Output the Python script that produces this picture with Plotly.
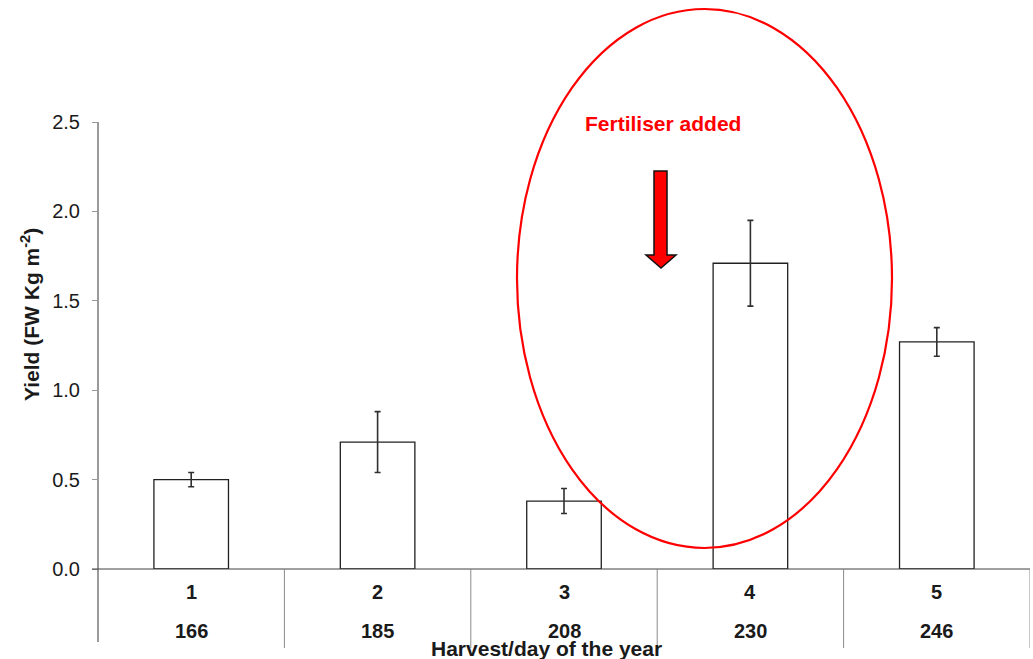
import plotly.graph_objects as go

# Harvest data
harvests = ["1", "2", "3", "4", "5"]
days = ["166", "185", "208", "230", "246"]
yield_fw = [0.50, 0.71, 0.38, 1.71, 1.27]
yield_err = [0.04, 0.17, 0.07, 0.24, 0.08]
y_ticks = [0.0, 0.5, 1.0, 1.5, 2.0, 2.5]

W, H = 1033, 659
L, R, T, B = 98, 3, 122, 90
plot_w = W - L - R
plot_h = H - T - B


def px(x):
    return (x - L) / plot_w


def py(y):
    return (H - B - y) / plot_h


FONT = "Liberation Sans, Arial, sans-serif"
TXT = "#1a1a1a"
pos = list(range(1, len(harvests) + 1))

fig = go.Figure()
fig.add_trace(go.Bar(
    x=pos, y=yield_fw, width=0.4,
    marker=dict(color="white", line=dict(color="#202020", width=1.3)),
    error_y=dict(type="data", array=yield_err, visible=True,
                 color="#303030", thickness=1.6, width=3),
    showlegend=False,
))

shapes = []
# extended y axis line
shapes.append(dict(type="line", xref="paper", yref="paper", x0=0, x1=0,
                   y0=py(642), y1=1, line=dict(color="#9a9a9a", width=2)))
# baseline at zero
shapes.append(dict(type="line", xref="paper", yref="paper", x0=px(92), x1=1,
                   y0=0, y1=0, line=dict(color="#404040", width=1)))
# category separators below the axis
for i in range(len(harvests)):
    shapes.append(dict(type="line", xref="x", yref="paper", x0=i + 1.5, x1=i + 1.5,
                       y0=py(648), y1=0, line=dict(color="#8a8a8a", width=1)))
# highlighting ellipse
shapes.append(dict(type="circle", xref="paper", yref="paper",
                   x0=px(517), x1=px(892), y0=py(548), y1=py(9),
                   line=dict(color="#ff0000", width=2.2)))
# downward arrow
arrow_pts = [(654, 171), (667, 171), (667, 255), (676, 255), (661, 268), (646, 255), (654, 255)]
path = "M " + " L ".join(f"{px(a):.5f},{py(b):.5f}" for a, b in arrow_pts) + " Z"
shapes.append(dict(type="path", xref="paper", yref="paper", path=path,
                   fillcolor="#ff0000", line=dict(color="#111111", width=1.5)))

annotations = []
for i, (h, d) in enumerate(zip(harvests, days)):
    annotations.append(dict(x=i + 1, y=py(592), xref="x", yref="paper", text=f"<b>{h}</b>",
                            showarrow=False, yanchor="middle",
                            font=dict(family=FONT, size=20, color=TXT)))
    annotations.append(dict(x=i + 1, y=py(631), xref="x", yref="paper", text=f"<b>{d}</b>",
                            showarrow=False, yanchor="middle",
                            font=dict(family=FONT, size=20, color=TXT)))
annotations.append(dict(x=px(546), y=py(648), xref="paper", yref="paper",
                        text="<b>Harvest/day of the year</b>", showarrow=False,
                        yanchor="middle", font=dict(family=FONT, size=21, color=TXT)))
annotations.append(dict(x=px(30), y=py(315), xref="paper", yref="paper",
                        text="<b>Yield (FW Kg m<sup>-2</sup>)</b>", showarrow=False,
                        textangle=-90, xanchor="center", yanchor="middle",
                        font=dict(family=FONT, size=21, color=TXT)))
annotations.append(dict(x=px(663), y=py(124), xref="paper", yref="paper",
                        text="<b>Fertiliser added</b>", showarrow=False,
                        yanchor="middle", font=dict(family=FONT, size=21, color="#ff0000")))

fig.update_layout(
    width=W, height=H,
    margin=dict(l=L, r=R, t=T, b=B, pad=0),
    paper_bgcolor="white", plot_bgcolor="white",
    shapes=shapes, annotations=annotations,
    xaxis=dict(range=[0.5, len(harvests) + 0.5], showticklabels=False, ticks="",
               showgrid=False, zeroline=False, showline=False, fixedrange=True),
    yaxis=dict(range=[0, 2.5], tickvals=y_ticks, tickformat=".1f",
               ticks="outside", ticklen=5, tickcolor="#9a9a9a", tickwidth=1,
               ticklabelstandoff=8,
               tickfont=dict(family=FONT, size=20, color=TXT),
               showgrid=False, zeroline=False, showline=False, fixedrange=True),
    showlegend=False,
)

fig.write_html("out.html")
